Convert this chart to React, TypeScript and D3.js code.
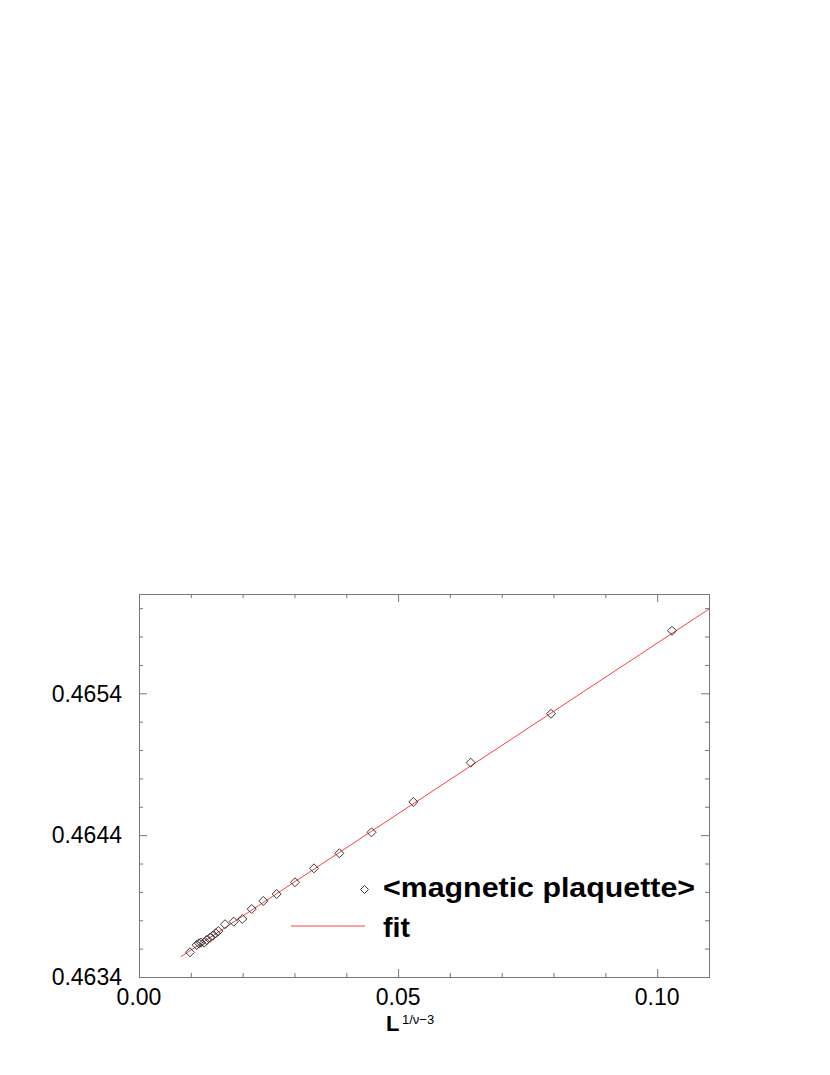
import React from "react";
import * as d3 from "d3";

const xData = [0.00984, 0.01114, 0.01158, 0.01197, 0.0126, 0.01307, 0.0137, 0.01422, 0.0148, 0.0153, 0.0166, 0.01828, 0.01994, 0.02175, 0.02399, 0.02657, 0.03011, 0.03377, 0.03866, 0.04487, 0.05294, 0.06401, 0.07951, 0.10286];
const yData = [0.463574, 0.463626, 0.463638, 0.463642, 0.463642, 0.463661, 0.463677, 0.463691, 0.463708, 0.463724, 0.463772, 0.46379, 0.463809, 0.463879, 0.463936, 0.463985, 0.464068, 0.464166, 0.464272, 0.46442, 0.464634, 0.464911, 0.465256, 0.465841];
const fitX = [0.0081, 0.11];
const fitY = [0.463543, 0.465994];
const xMajorTicks = [0.0, 0.05, 0.1];
const xTickLabels = ["0.00", "0.05", "0.10"];
const yMajorTicks = [0.4634, 0.4644, 0.4654];
const yTickLabels = ["0.4634", "0.4644", "0.4654"];
const legendLabels = ["<magnetic plaquette>", "fit"];

const W = 830, H = 1075;
const L = 139, R = 709, T = 594, B = 977;
const FONT = "'Liberation Sans', Arial, Helvetica, sans-serif";
const FRAME = "#777";

export default function App() {
  const x = d3.scaleLinear().domain([0, 0.11]).range([L, R]);
  const y = d3.scaleLinear().domain([0.4634, 0.4661]).range([B, T]);

  const xMinor = d3.range(0, 11).map((i) => i * 0.01).filter((v) => !xMajorTicks.some((m) => Math.abs(m - v) < 1e-9));
  const yMinor = d3.range(0, 14).map((i) => 0.4634 + i * 0.0002).filter((v) => v <= 0.4661 + 1e-9 && !yMajorTicks.some((m) => Math.abs(m - v) < 1e-9));

  const line = d3.line<number>().x((_, i) => x(fitX[i])).y((d) => y(d));
  const diamond = (cx: number, cy: number, r = 4.5) =>
    `M${cx},${cy - r}L${cx + r},${cy}L${cx},${cy + r}L${cx - r},${cy}Z`;

  return (
    <svg width={W} height={H} style={{ position: "absolute", left: 0, top: 0, background: "#fff" }}>
      <rect x={0} y={0} width={W} height={H} fill="#fff" />
      {/* fit line */}
      <path d={line(fitY) || ""} fill="none" stroke="#ff4040" strokeWidth={1} />
      {/* data */}
      {xData.map((xv, i) => (
        <path key={i} d={diamond(x(xv), y(yData[i]))} fill="none" stroke="#222" strokeWidth={0.9} />
      ))}
      {/* frame */}
      <rect x={L + 0.5} y={T + 0.5} width={R - L} height={B - T} fill="none" stroke={FRAME} strokeWidth={1} />
      {/* x ticks */}
      {xMajorTicks.map((v) => (
        <g key={"xM" + v}>
          <line x1={x(v) + 0.5} x2={x(v) + 0.5} y1={B} y2={B - 8} stroke={FRAME} />
          <line x1={x(v) + 0.5} x2={x(v) + 0.5} y1={T} y2={T + 8} stroke={FRAME} />
        </g>
      ))}
      {xMinor.map((v) => (
        <g key={"xm" + v}>
          <line x1={x(v) + 0.5} x2={x(v) + 0.5} y1={B} y2={B - 4} stroke={FRAME} />
          <line x1={x(v) + 0.5} x2={x(v) + 0.5} y1={T} y2={T + 4} stroke={FRAME} />
        </g>
      ))}
      {yMajorTicks.map((v) => (
        <g key={"yM" + v}>
          <line x1={L} x2={L + 8} y1={y(v) + 0.5} y2={y(v) + 0.5} stroke={FRAME} />
          <line x1={R} x2={R - 8} y1={y(v) + 0.5} y2={y(v) + 0.5} stroke={FRAME} />
        </g>
      ))}
      {yMinor.map((v) => (
        <g key={"ym" + v}>
          <line x1={L} x2={L + 4} y1={y(v) + 0.5} y2={y(v) + 0.5} stroke={FRAME} />
          <line x1={R} x2={R - 4} y1={y(v) + 0.5} y2={y(v) + 0.5} stroke={FRAME} />
        </g>
      ))}
      {/* tick labels */}
      {xMajorTicks.map((v, i) => (
        <text key={"xl" + i} x={x(v)} y={1005} textAnchor="middle" fontFamily={FONT} fontSize={23} fill="#000">
          {xTickLabels[i]}
        </text>
      ))}
      {yMajorTicks.map((v, i) => (
        <text key={"yl" + i} x={122} y={y(v) + 8.3} textAnchor="end" fontFamily={FONT} fontSize={23} fill="#000">
          {yTickLabels[i]}
        </text>
      ))}
      {/* x axis title */}
      <text x={386} y={1031} fontFamily={FONT} fontSize={22} fontWeight="bold" fill="#000">
        L
      </text>
      <text x={402} y={1024} fontFamily={FONT} fontSize={13} fill="#000">
        1/ν−3
      </text>
      {/* legend */}
      <path d={diamond(364.5, 889.5, 4)} fill="none" stroke="#222" strokeWidth={0.9} />
      <text x={383} y={897} fontFamily={FONT} fontSize={28} fontWeight="bold" fill="#000" textLength={312} lengthAdjust="spacingAndGlyphs">
        {legendLabels[0]}
      </text>
      <line x1={291} x2={365} y1={926} y2={926} stroke="#ff4040" strokeWidth={1} />
      <text x={383} y={937} fontFamily={FONT} fontSize={28} fontWeight="bold" fill="#000" textLength={27} lengthAdjust="spacingAndGlyphs">
        {legendLabels[1]}
      </text>
    </svg>
  );
}
